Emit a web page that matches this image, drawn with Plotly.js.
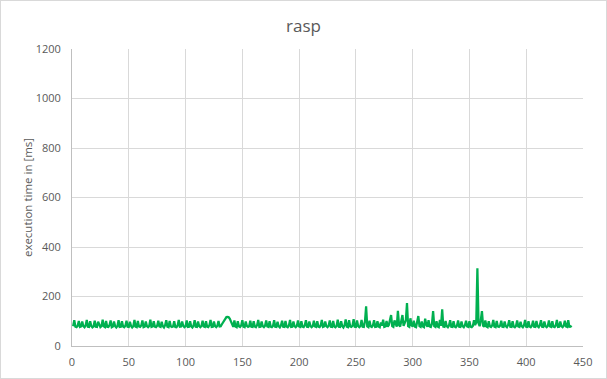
<!DOCTYPE html>
<html>
<head>
<meta charset="utf-8">
<script src="https://cdn.plot.ly/plotly-3.0.1.min.js"></script>
<style>
html,body{margin:0;padding:0;background:#fff;}
#wrap{position:relative;width:607px;height:379px;}
#chart{position:absolute;left:0;top:0;width:607px;height:379px;}
#frame{position:absolute;left:0;top:0;width:607px;height:379px;box-sizing:border-box;border:1px solid #D9D9D9;pointer-events:none;}
</style>
</head>
<body>
<div id="wrap"><div id="chart"></div><div id="frame"></div></div>
<script>
const chartTitle = "rasp";
const yTitle = "execution time in [ms]";
const xTicks = [0,50,100,150,200,250,300,350,400,450];
const yTicks = [0,200,400,600,800,1000,1200];

const execTimes = [
80,104,78,76,82,101,77,79,99,80,76,83,105,78,77,100,81,75,79,102,
78,77,98,82,76,80,106,79,76,101,78,77,84,103,76,79,99,80,75,81,
104,77,78,100,79,76,82,102,78,77,98,81,75,80,105,78,76,101,79,77,
83,103,76,78,99,80,76,81,106,77,79,100,78,76,82,102,79,77,98,80,
75,84,104,78,76,101,80,77,79,100,77,76,83,105,78,79,99,81,76,80,
103,77,78,100,79,75,82,104,78,77,99,80,76,81,102,79,77,100,78,76,
84,105,77,78,99,80,76,82,101,79,80,88,96,106,113,117,118,116,110,98,
85,77,103,79,76,100,80,77,83,104,78,76,99,81,77,80,102,78,77,100,
79,76,84,105,77,78,99,80,76,82,103,79,77,100,78,76,81,104,78,77,
98,80,75,83,102,78,77,101,79,76,82,105,77,78,99,80,76,81,103,79,
77,100,78,76,84,104,78,77,99,81,76,80,102,79,77,100,78,76,83,105,
77,79,99,80,76,82,103,78,77,101,79,76,81,106,78,77,100,80,75,84,
107,78,76,104,79,77,82,108,78,77,103,80,76,81,105,78,77,100,160,79,
76,102,80,77,83,104,77,78,100,79,76,95,82,106,77,79,101,78,85,108,
125,80,77,103,90,78,142,85,79,110,125,81,96,104,173,80,77,112,84,79,
102,78,76,95,121,80,77,99,79,76,110,86,78,104,79,77,90,141,80,77,
100,79,76,105,82,148,78,77,101,80,76,83,104,78,77,100,79,76,82,103,
78,77,99,80,76,84,102,79,77,100,78,76,81,104,85,95,314,92,80,104,
141,82,78,103,79,76,100,80,77,83,105,78,76,101,79,77,82,102,78,77,
99,80,76,84,104,78,77,100,79,76,81,103,79,77,98,80,76,83,105,78,
77,100,79,76,82,102,78,77,101,80,76,84,104,78,77,99,80,76,81,103,
79,77,100,78,76,83,105,77,78,99,80,76,82,102,79,77,104,78,80,76
];
const runIndex = execTimes.map((v, i) => i + 1);

const font = "Open Sans, Liberation Sans, sans-serif";
const grey = "#595959";

Plotly.newPlot("chart", [{
  x: runIndex,
  y: execTimes,
  type: "scatter",
  mode: "lines",
  line: {color: "#00B050", width: 2.25},
  hoverinfo: "skip"
}], {
  width: 607,
  height: 379,
  margin: {l: 72, r: 24, t: 49, b: 33, pad: 0},
  paper_bgcolor: "#ffffff",
  plot_bgcolor: "#ffffff",
  showlegend: false,
  title: {text: chartTitle, x: 0.5, xanchor: "center", y: 0.93, yanchor: "middle",
          font: {family: font, size: 17, color: grey}},
  xaxis: {
    range: [0, 450], tickvals: xTicks, ticktext: xTicks.map(String),
    showgrid: true, gridcolor: "#D9D9D9", gridwidth: 1,
    showline: true, linecolor: "#BFBFBF", linewidth: 1,
    zeroline: false, ticks: "", ticklabelstandoff: 6,
    tickfont: {family: font, size: 11, color: grey}
  },
  yaxis: {
    range: [0, 1200], tickvals: yTicks, ticktext: yTicks.map(String),
    showgrid: true, gridcolor: "#D9D9D9", gridwidth: 1,
    showline: true, linecolor: "#BFBFBF", linewidth: 1,
    zeroline: false, ticks: "", ticklabelstandoff: 8,
    tickfont: {family: font, size: 11, color: grey},
    title: {text: yTitle, standoff: 0, font: {family: font, size: 11.5, color: grey}}
  }
}, {staticPlot: true, displayModeBar: false});
</script>
</body>
</html>
